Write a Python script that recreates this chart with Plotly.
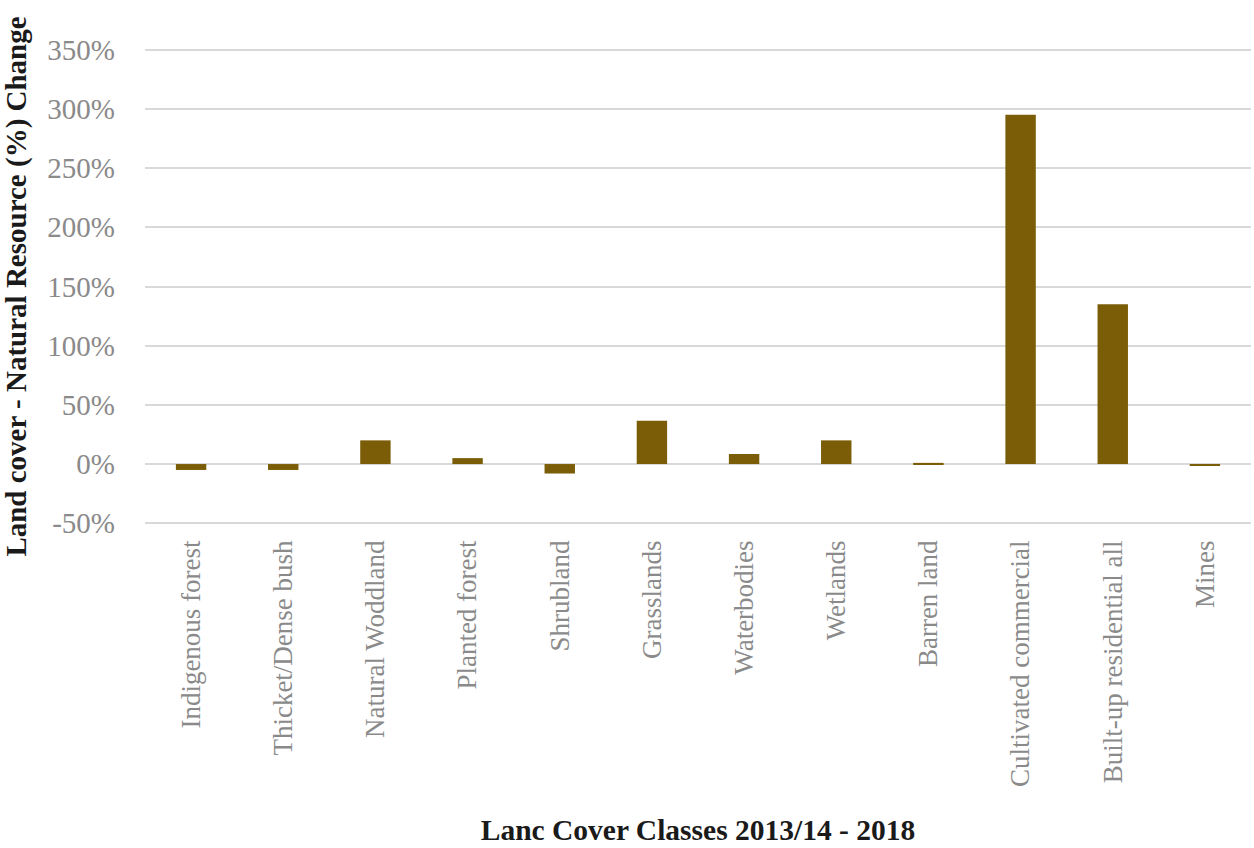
import plotly.graph_objects as go

categories = [
    "Indigenous forest", "Thicket/Dense bush", "Natural Woddland", "Planted forest",
    "Shrubland", "Grasslands", "Waterbodies", "Wetlands", "Barren land",
    "Cultivated commercial", "Built-up residential all", "Mines",
]
change_pct = [-5, -5, 20, 5, -8, 36.5, 8.5, 20, 1, 295, 135, -1]

y_ticks = [-50, 0, 50, 100, 150, 200, 250, 300, 350]
y_tick_labels = ["-50%", "0%", "50%", "100%", "150%", "200%", "250%", "300%", "350%"]

SERIF = "Liberation Serif, Times New Roman, serif"

fig = go.Figure(
    go.Bar(
        x=categories,
        y=change_pct,
        marker=dict(color="#7B5C07", line=dict(width=0)),
        width=0.33,
    )
)

fig.update_layout(
    width=1254,
    height=848,
    margin=dict(l=145, r=3, t=48, b=323),
    paper_bgcolor="white",
    plot_bgcolor="white",
    showlegend=False,
    font=dict(family=SERIF),
)

fig.update_xaxes(
    tickangle=-90,
    tickfont=dict(family=SERIF, size=27, color="#8a8a8a"),
    showgrid=False,
    showline=False,
    ticks="",
    ticklabelstandoff=9,
    title=dict(
        text="<b>Lanc Cover Classes 2013/14 - 2018</b>",
        font=dict(family=SERIF, size=29.5, color="#1a1a1a"),
        standoff=33,
    ),
)

fig.update_yaxes(
    range=[-51.5, 351.5],
    tickmode="array",
    tickvals=y_ticks,
    ticktext=y_tick_labels,
    tickfont=dict(family=SERIF, size=29, color="#8a8a8a"),
    ticklabelstandoff=29,
    showgrid=True,
    gridcolor="#d9d9d9",
    gridwidth=2,
    zeroline=True,
    zerolinecolor="#d9d9d9",
    zerolinewidth=2,
    showline=False,
    ticks="",
    title=dict(
        text="<b>Land cover - Natural Resource (%) Change</b>",
        font=dict(family=SERIF, size=29, color="#1a1a1a"),
        standoff=12,
    ),
)

fig.write_html("out.html")
